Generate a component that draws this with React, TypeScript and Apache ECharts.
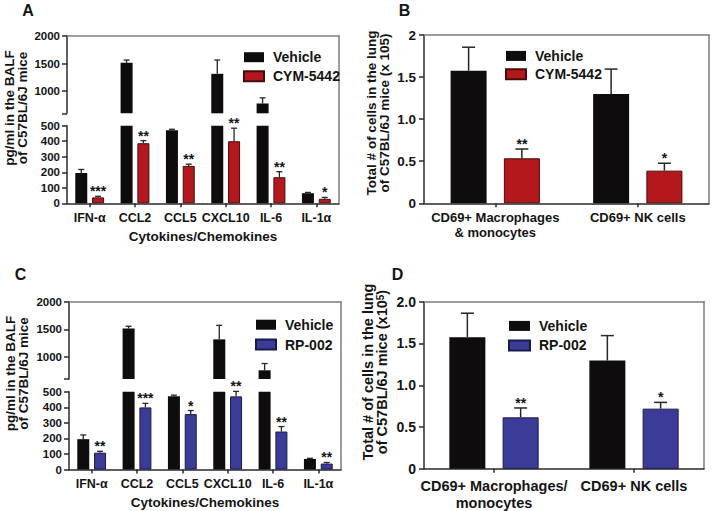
import React, { useEffect, useRef } from 'react';
import * as echarts from 'echarts';

// ---------- data ----------
const cytokines = ['IFN-α', 'CCL2', 'CCL5', 'CXCL10', 'IL-6', 'IL-1α'];
const cytoUpperTicks = [1000, 1500, 2000];

const vehicleA = [195, 1515, 470, 1315, 778, 65];
const vehicleAErr = [23, 50, 7, 250, 102, 5];
const cymA = [38, 387, 241, 400, 168, 29];
const cymAErr = [7, 17, 11, 84, 36, 9];
const starsA = ['***', '**', '**', '**', '**', '*'];

const vehicleC = [195, 1515, 470, 1318, 758, 68];
const vehicleCErr = [27, 40, 8, 254, 122, 4];
const rpC = [108, 399, 356, 470, 244, 38];
const rpCErr = [9, 26, 23, 32, 32, 7];
const starsC = ['**', '***', '*', '**', '**', '**'];

const cellTypesB = ['CD69+ Macrophages\n& monocytes', 'CD69+ NK cells'];
const vehicleB = [1.575, 1.298];
const vehicleBErr = [0.28, 0.297];
const cymB = [0.535, 0.388];
const cymBErr = [0.11, 0.088];
const starsB = ['**', '*'];

const cellTypesD = ['CD69+ Macrophages/\nmonocytes', 'CD69+ NK cells'];
const vehicleD = [1.575, 1.296];
const vehicleDErr = [0.287, 0.298];
const rpD = [0.616, 0.72];
const rpDErr = [0.112, 0.075];
const starsD = ['**', '*'];

// ---------- styles ----------
const FONT = "'Liberation Sans', Arial, Helvetica, sans-serif";
const TXT = '#141414';
const AXIS = '#2a2a2a';
const FRAME = '#7d7d7d';
const BLACK = '#0e0c0c';
const RED = '#b3181d';
const RED_B = '#4a0b0b';
const BLUE = '#3b3c98';
const BLUE_B = '#1a1a48';

const BRK = 600;
const LOW_MAX = 500;
const UP_MAX = 2000;

const axisLineStyle = { color: AXIS, width: 1.5 };
const frameLine = { color: FRAME, width: 1.5 };

function errSeries(
  xi: number,
  yi: number,
  vals: number[],
  errs: number[],
  stars: string[] | null,
  offset: number,
  capW: number,
  keep: (v: number) => boolean,
  lw: number
) {
  const data = vals.map((v, i) => [i, v, errs[i]]).filter((d) => keep(d[1]));
  return {
    type: 'custom',
    xAxisIndex: xi,
    yAxisIndex: yi,
    z: 5,
    silent: true,
    data,
    renderItem: (params: any, api: any) => {
      const i = api.value(0);
      const v = api.value(1);
      const e = api.value(2);
      const base = api.coord([i, v]);
      const top = api.coord([i, v + e]);
      const x = base[0] + offset;
      const st = { stroke: '#262626', lineWidth: lw };
      const children: any[] = [
        { type: 'line', shape: { x1: x, y1: base[1], x2: x, y2: top[1] }, style: st },
        { type: 'line', shape: { x1: x - capW / 2, y1: top[1], x2: x + capW / 2, y2: top[1] }, style: st },
      ];
      if (stars) {
        children.push({
          type: 'text',
          x: x,
          y: top[1] - 5,
          style: {
            text: stars[i],
            fill: TXT,
            fontSize: 14,
            fontWeight: 'bold',
            fontFamily: FONT,
            textAlign: 'center',
            textVerticalAlign: 'middle',
            align: 'center',
            verticalAlign: 'middle',
          },
        });
      }
      return { type: 'group', children };
    },
  };
}

function frameAxes(gi: number) {
  const common = {
    gridIndex: gi,
    type: 'value',
    min: 0,
    max: 1,
    axisLine: { show: true, onZero: false, lineStyle: frameLine },
    axisTick: { show: false },
    axisLabel: { show: false },
    splitLine: { show: false },
  };
  return {
    x: { ...common, position: 'top' },
    y: { ...common, position: 'right' },
  };
}

function yLabel(size: number, extra: any = {}) {
  return { color: TXT, fontSize: size, fontWeight: 'bold', fontFamily: FONT, margin: 7, ...extra };
}

function gtext(text: string, x: number, y: number, size: number, rot = 0, lh?: number, rich?: any) {
  return {
    type: 'text',
    x,
    y,
    rotation: rot,
    style: {
      text,
      fill: TXT,
      fontSize: size,
      fontWeight: 'bold',
      fontFamily: FONT,
      textAlign: 'center',
      textVerticalAlign: 'middle',
      align: 'center',
      verticalAlign: 'middle',
      lineHeight: lh,
      rich,
    },
  };
}

function legend(left: number, top: number, gap: number, names: string[], w = 20) {
  return {
    left,
    top,
    orient: 'vertical',
    itemWidth: w,
    itemHeight: 10,
    itemGap: gap,
    icon: 'rect',
    selectedMode: false,
    data: names,
    textStyle: {
      color: TXT,
      fontSize: 14,
      fontWeight: 'bold',
      fontFamily: FONT,
      lineHeight: 14,
      padding: [0, 0, 0, 4],
    },
  };
}

const plain = (v: number) => String(v);

function buildOption() {
  // grids
  const grid = [
    { left: 67, top: 36, width: 272, height: 77.3 }, // 0 A upper
    { left: 67, top: 125.7, width: 272, height: 77.6 }, // 1 A lower
    { left: 67, top: 36, width: 272, height: 167.3 }, // 2 A frame
    { left: 424, top: 35, width: 285, height: 168.3 }, // 3 B
    { left: 69, top: 301.7, width: 272, height: 77.3 }, // 4 C upper
    { left: 69, top: 391.7, width: 272, height: 77.8 }, // 5 C lower
    { left: 69, top: 301.7, width: 272, height: 167.8 }, // 6 C frame
    { left: 424, top: 301.7, width: 280, height: 167.6 }, // 7 D
  ];

  const hiddenCat = (gi: number) => ({
    gridIndex: gi,
    type: 'category',
    data: cytokines,
    show: false,
  });
  const cytoCat = (gi: number) => ({
    gridIndex: gi,
    type: 'category',
    data: cytokines,
    axisLine: { show: true, onZero: false, lineStyle: axisLineStyle },
    axisTick: { show: true, alignWithLabel: true, length: 4, lineStyle: axisLineStyle },
    axisLabel: { color: TXT, fontSize: 12.5, fontWeight: 'bold', fontFamily: FONT, margin: 8, interval: 0 },
    name: 'Cytokines/Chemokines',
    nameLocation: 'middle',
    nameGap: 26,
    nameTextStyle: { color: TXT, fontSize: 13.5, fontWeight: 'bold', fontFamily: FONT },
  });
  const cellCat = (gi: number, data: string[], size: number, lh: number, margin: number) => ({
    gridIndex: gi,
    type: 'category',
    data,
    axisLine: { show: true, onZero: false, lineStyle: axisLineStyle },
    axisTick: { show: true, alignWithLabel: true, length: 4, lineStyle: axisLineStyle },
    axisLabel: { color: TXT, fontSize: size, lineHeight: lh, fontWeight: 'bold', fontFamily: FONT, margin, interval: 0 },
  });
  const upperY = (gi: number) => ({
    gridIndex: gi,
    type: 'value',
    min: BRK,
    max: UP_MAX,
    axisLine: { show: true, onZero: false, lineStyle: axisLineStyle },
    axisTick: { show: true, length: 5, customValues: [BRK, ...cytoUpperTicks], lineStyle: axisLineStyle },
    axisLabel: yLabel(11.5, { customValues: cytoUpperTicks, formatter: plain }),
    splitLine: { show: false },
  });
  const lowerY = (gi: number) => ({
    gridIndex: gi,
    type: 'value',
    min: 0,
    max: LOW_MAX,
    interval: 100,
    axisLine: { show: true, onZero: false, lineStyle: axisLineStyle },
    axisTick: { show: true, length: 5, lineStyle: axisLineStyle },
    axisLabel: yLabel(11.5, { formatter: plain }),
    splitLine: { show: false },
  });
  const cellY = (gi: number, size: number, fmt: (v: number) => string) => ({
    gridIndex: gi,
    type: 'value',
    min: 0,
    max: 2,
    interval: 0.5,
    axisLine: { show: true, onZero: false, lineStyle: axisLineStyle },
    axisTick: { show: true, length: 5, lineStyle: axisLineStyle },
    axisLabel: yLabel(size, { formatter: fmt, margin: 8 }),
    splitLine: { show: false },
  });

  const fA = frameAxes(2);
  const fB = frameAxes(3);
  const fC = frameAxes(6);
  const fD = frameAxes(7);

  const xAxis = [
    hiddenCat(0), // 0
    cytoCat(1), // 1
    fA.x, // 2
    cellCat(3, cellTypesB, 13, 15.5, 6), // 3
    fB.x, // 4
    hiddenCat(4), // 5
    cytoCat(5), // 6
    fC.x, // 7
    cellCat(7, cellTypesD, 14.5, 16.6, 9), // 8
    fD.x, // 9
  ];
  const yAxis = [
    upperY(0), // 0
    lowerY(1), // 1
    fA.y, // 2
    cellY(3, 13.5, (v) => (v === 0 ? '0' : v === 2 ? '2' : v.toFixed(1))), // 3
    fB.y, // 4
    upperY(4), // 5
    lowerY(5), // 6
    fC.y, // 7
    cellY(7, 14, (v) => (v === 0 ? '0' : v.toFixed(1))), // 8
    fD.y, // 9
  ];

  const vehStyle = { color: BLACK };
  const redStyle = { color: RED, borderColor: RED_B, borderWidth: 1 };
  const blueStyle = { color: BLUE, borderColor: BLUE_B, borderWidth: 1 };
  const upperOnly = (arr: number[]) => arr.map((v) => (v > BRK ? v : '-'));

  const bar = (name: string, xi: number, yi: number, data: any[], style: any, w: number, gap: string) => ({
    type: 'bar',
    name,
    xAxisIndex: xi,
    yAxisIndex: yi,
    data,
    barWidth: w,
    barGap: gap,
    clip: true,
    itemStyle: style,
    silent: true,
  });

  const offS = (12 + 12 * 0.4) / 2;
  const offL = (36 + 36 * 0.48) / 2;
  const inLow = (v: number) => v <= LOW_MAX;
  const inUp = (v: number) => v > BRK;
  const all = () => true;

  const series: any[] = [
    // Panel A
    bar('Vehicle', 0, 0, upperOnly(vehicleA), vehStyle, 12, '40%'),
    bar('CYM-5442', 0, 0, upperOnly(cymA), redStyle, 12, '40%'),
    bar('Vehicle', 1, 1, vehicleA, vehStyle, 12, '40%'),
    bar('CYM-5442', 1, 1, cymA, redStyle, 12, '40%'),
    errSeries(0, 0, vehicleA, vehicleAErr, null, -offS, 6, inUp, 1.3),
    errSeries(1, 1, vehicleA, vehicleAErr, null, -offS, 6, inLow, 1.3),
    errSeries(1, 1, cymA, cymAErr, starsA, offS, 6, inLow, 1.3),
    // Panel B
    bar('Vehicle', 3, 3, vehicleB, vehStyle, 36, '48%'),
    bar('CYM-5442', 3, 3, cymB, redStyle, 36, '48%'),
    errSeries(3, 3, vehicleB, vehicleBErr, null, -offL, 13, all, 1.5),
    errSeries(3, 3, cymB, cymBErr, starsB, offL, 13, all, 1.5),
    // Panel C
    bar('Vehicle', 5, 5, upperOnly(vehicleC), vehStyle, 12, '40%'),
    bar('RP-002', 5, 5, upperOnly(rpC), blueStyle, 12, '40%'),
    bar('Vehicle', 6, 6, vehicleC, vehStyle, 12, '40%'),
    bar('RP-002', 6, 6, rpC, blueStyle, 12, '40%'),
    errSeries(5, 5, vehicleC, vehicleCErr, null, -offS, 6, inUp, 1.3),
    errSeries(6, 6, vehicleC, vehicleCErr, null, -offS, 6, inLow, 1.3),
    errSeries(6, 6, rpC, rpCErr, starsC, offS, 6, inLow, 1.3),
    // Panel D
    bar('Vehicle', 8, 8, vehicleD, vehStyle, 36, '48%'),
    bar('RP-002', 8, 8, rpD, blueStyle, 36, '48%'),
    errSeries(8, 8, vehicleD, vehicleDErr, null, -offL, 13, all, 1.5),
    errSeries(8, 8, rpD, rpDErr, starsD, offL, 13, all, 1.5),
  ];

  const graphic = [
    gtext('A', 28, 10.5, 16),
    gtext('B', 404.5, 10.5, 16),
    gtext('C', 20.5, 274, 16),
    gtext('D', 397.5, 274, 16),
    gtext('pg/ml in the BALF\nof C57BL/6J mice', 16, 108, 13.5, Math.PI / 2, 13),
    gtext('Total # of cells in the lung\nof C57BL/6J mice (x 105)', 378, 113, 13.5, Math.PI / 2, 12.5),
    gtext('pg/ml in the BALF\nof C57BL/6J mice', 17, 373.5, 13.5, Math.PI / 2, 13),
    gtext('Total # of cells in the lung\nof C57BL/6J mice (x10{sup|5})', 375, 372, 14.5, Math.PI / 2, 13.5, {
      sup: { fontSize: 10, fontWeight: 'bold', fontFamily: FONT, fill: TXT, verticalAlign: 'top', lineHeight: 10 },
    }),
  ];

  return {
    animation: false,
    backgroundColor: '#ffffff',
    grid,
    xAxis,
    yAxis,
    legend: [
      legend(238, 45.2, 5, ['Vehicle', 'CYM-5442']),
      legend(500, 43.9, 4.4, ['Vehicle', 'CYM-5442']),
      legend(250, 312.7, 5.8, ['Vehicle', 'RP-002']),
      legend(503, 313.9, 5.5, ['Vehicle', 'RP-002'], 21),
    ],
    series,
    graphic,
  };
}

export default function App() {
  const ref = useRef<HTMLDivElement>(null);
  useEffect(() => {
    if (!ref.current) return;
    const chart = echarts.init(ref.current, undefined, { renderer: 'svg' });
    chart.setOption(buildOption() as any);
    return () => chart.dispose();
  }, []);
  return (
    <div
      ref={ref}
      style={{ position: 'absolute', left: 0, top: 0, width: 713, height: 511, background: '#fff' }}
    />
  );
}
